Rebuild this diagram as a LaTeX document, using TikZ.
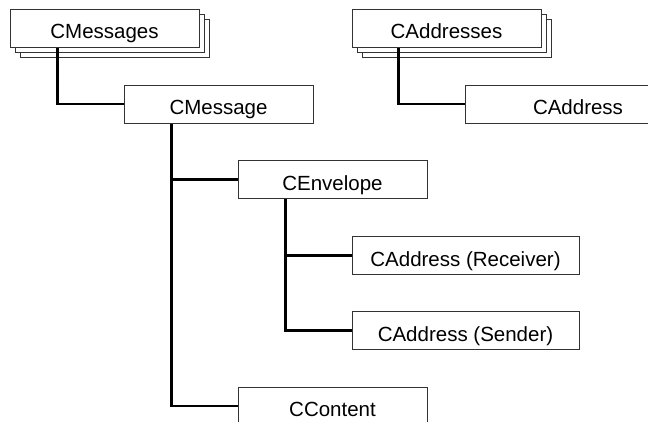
\documentclass[tikz,border=0pt]{standalone}
\usepackage{fontspec}
\setmainfont{Liberation Sans}
\begin{document}
\begin{tikzpicture}[x=1pt,y=-1pt,
  box/.style={draw=black!80,line width=1pt,fill=white,rectangle,inner sep=0pt,
    minimum width=189pt,minimum height=38pt,text height=21pt,text depth=0pt,
    font=\fontsize{20.5}{24}\selectfont},
  link/.style={draw=black,line width=2.2pt}]
\useasboundingbox (0,0) rectangle (648,421);
\clip (0,0) rectangle (648,421);

% stacked collection boxes (back copies first)
\foreach \dx in {10,5}{
  \node[box] at (104.5+\dx,28+\dx) {};
  \node[box] at (446.5+\dx,28+\dx) {};
}
\node[box] (msgs)  at (104.5,28)  {CMessages};
\node[box] (addrs) at (446.5,28)  {CAddresses};

\node[box] (msg)  at (218.5,104)  {CMessage};
\node[box,minimum width=226pt] (addr) at (578,104) {CAddress};
\node[box] (env)  at (332.5,179.5) {CEnvelope};
\node[box,minimum width=227pt] (rcv) at (465.5,255.5) {CAddress (Receiver)};
\node[box,minimum width=227pt] (snd) at (465.5,330.5) {CAddress (Sender)};
\node[box] (cnt)  at (332.5,406)  {CContent};

% tree connectors
\draw[link] ([xshift=48pt]msgs.south west) |- (msg.west);
\draw[link] ([xshift=47pt]addrs.south west) |- (addr.west);
\draw[link] ([xshift=48pt]msg.south west) |- (env.west);
\draw[link] ([xshift=48pt]msg.south west) |- (cnt.west);
\draw[link] ([xshift=48pt]env.south west) |- (rcv.west);
\draw[link] ([xshift=48pt]env.south west) |- (snd.west);
\end{tikzpicture}
\end{document}
